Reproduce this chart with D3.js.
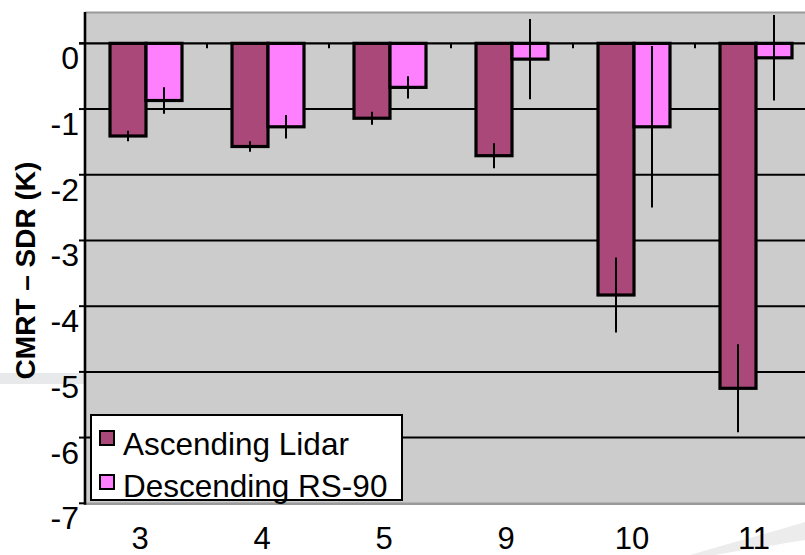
<!DOCTYPE html>
<html>
<head>
<meta charset="utf-8">
<script src="https://cdn.jsdelivr.net/npm/d3@7"></script>
<style>
  html, body { margin: 0; padding: 0; background: #ffffff; }
  svg { display: block; }
  text { font-family: "Liberation Sans", Arial, sans-serif; }
</style>
</head>
<body>
<svg id="chart" width="805" height="555"></svg>
<script>
// ---- data ----
const categories = ["3", "4", "5", "9", "10", "11"];
const seriesNames = ["Ascending Lidar", "Descending RS-90"];
const lidarValues = [-1.41, -1.57, -1.14, -1.71, -3.83, -5.25];
const lidarErrors = [0.08, 0.08, 0.10, 0.19, 0.57, 0.67];
const rs90Values = [-0.87, -1.27, -0.67, -0.24, -1.27, -0.22];
const rs90Errors = [0.20, 0.18, 0.17, 0.61, 1.23, 0.65];
const yTicks = [0, -1, -2, -3, -4, -5, -6, -7];
const yLabel = "CMRT \u2013 SDR (K)";

// ---- layout ----
const svg = d3.select("#chart");
const W = 805, H = 555;
const plot = { left: 85, top: 12, right: 817, bottom: 503.3 };
const colors = ["#AA4979", "#FF80FF"];

const x = d3.scaleBand().domain(categories).range([plot.left, plot.right]).paddingInner(0).paddingOuter(0);
const y = d3.scaleLinear().domain([-7, 0.477]).range([plot.bottom, plot.top]);
const barW = 36;
const offset = (x.bandwidth() - 2 * barW) / 2;

// background decorations (slide swoosh)
svg.append("rect").attr("x", 0).attr("y", 373).attr("width", plot.left).attr("height", 11).attr("fill", "#e7e9ea");
svg.append("path")
  .attr("d", "M690,555 C740,540 780,530 805,522 L805,540 C770,546 730,552 715,555 Z")
  .attr("fill", "#ececec");

// plot area
svg.append("rect")
  .attr("x", plot.left).attr("y", plot.top)
  .attr("width", plot.right - plot.left).attr("height", plot.bottom - plot.top)
  .attr("fill", "#cccccc");

// top/bottom border (gray)
svg.append("line").attr("x1", plot.left).attr("x2", W).attr("y1", plot.top + 0.5).attr("y2", plot.top + 0.5)
  .attr("stroke", "#9a9a9a").attr("stroke-width", 2);
svg.append("line").attr("x1", plot.left).attr("x2", W).attr("y1", plot.bottom + 0.5).attr("y2", plot.bottom + 0.5)
  .attr("stroke", "#9a9a9a").attr("stroke-width", 2.5);

// gridlines
svg.append("g").selectAll("line")
  .data(yTicks.filter(t => t !== 0 && t !== -7))
  .join("line")
  .attr("x1", plot.left).attr("x2", W)
  .attr("y1", d => y(d)).attr("y2", d => y(d))
  .attr("stroke", "#000").attr("stroke-width", 2);

// bars
const gBars = svg.append("g");
const seriesData = [
  { name: seriesNames[0], values: lidarValues, errors: lidarErrors, color: colors[0], idx: 0 },
  { name: seriesNames[1], values: rs90Values, errors: rs90Errors, color: colors[1], idx: 1 }
];
seriesData.forEach(s => {
  gBars.selectAll(null)
    .data(categories.map((c, i) => ({ c, v: s.values[i], e: s.errors[i] })))
    .join("rect")
    .attr("x", d => x(d.c) + offset + s.idx * barW)
    .attr("y", d => y(Math.max(0, d.v)))
    .attr("width", barW)
    .attr("height", d => Math.abs(y(d.v) - y(0)))
    .attr("fill", s.color)
    .attr("stroke", "#000")
    .attr("stroke-width", 3.2);
});

// zero line (axis) with category ticks
svg.append("line").attr("x1", plot.left - 6).attr("x2", W).attr("y1", y(0)).attr("y2", y(0))
  .attr("stroke", "#000").attr("stroke-width", 2.4);
svg.append("g").selectAll("line")
  .data(categories.slice(1))
  .join("line")
  .attr("x1", d => x(d)).attr("x2", d => x(d))
  .attr("y1", y(0)).attr("y2", y(0) + 5)
  .attr("stroke", "#000").attr("stroke-width", 2);

// error bars
seriesData.forEach(s => {
  svg.append("g").selectAll("line")
    .data(categories.map((c, i) => ({ c, v: s.values[i], e: s.errors[i] })))
    .join("line")
    .attr("x1", d => x(d.c) + offset + s.idx * barW + barW / 2)
    .attr("x2", d => x(d.c) + offset + s.idx * barW + barW / 2)
    .attr("y1", d => y(d.v + d.e))
    .attr("y2", d => y(d.v - d.e))
    .attr("stroke", "#000").attr("stroke-width", 2);
});

// left axis
svg.append("line").attr("x1", plot.left).attr("x2", plot.left).attr("y1", plot.top).attr("y2", plot.bottom + 1.5)
  .attr("stroke", "#000").attr("stroke-width", 2.6);
const yAxis = svg.append("g");
yAxis.selectAll("line")
  .data(yTicks)
  .join("line")
  .attr("x1", plot.left - 6).attr("x2", plot.left)
  .attr("y1", d => y(d)).attr("y2", d => y(d))
  .attr("stroke", "#000").attr("stroke-width", 2);
yAxis.selectAll("text")
  .data(yTicks)
  .join("text")
  .attr("x", 79)
  .attr("y", d => y(d) + 26)
  .attr("text-anchor", "end")
  .attr("font-size", 32)
  .attr("fill", "#000")
  .text(d => d === 0 ? "0" : "-" + Math.abs(d));

// x labels
svg.append("g").selectAll("text")
  .data(categories)
  .join("text")
  .attr("x", d => x(d) + x.bandwidth() / 2 - (d.length > 1 ? 2 : 6))
  .attr("y", 548.5)
  .attr("text-anchor", "middle")
  .attr("font-size", 31)
  .attr("fill", "#000")
  .text(d => d);

// y title
svg.append("text")
  .attr("transform", "translate(35,270.5) rotate(-90)")
  .attr("text-anchor", "middle")
  .attr("font-size", 28)
  .attr("font-weight", "bold")
  .attr("fill", "#000")
  .text(yLabel);

// legend
const leg = svg.append("g");
leg.append("rect").attr("x", 91).attr("y", 415).attr("width", 311).attr("height", 85)
  .attr("fill", "#fff").attr("stroke", "#000").attr("stroke-width", 2);
seriesData.forEach((s, i) => {
  leg.append("rect").attr("x", 100).attr("y", 431 + i * 44).attr("width", 14).attr("height", 14)
    .attr("fill", s.color).attr("stroke", "#000").attr("stroke-width", 2);
  leg.append("text").attr("x", 123).attr("y", 455 + i * 42)
    .attr("font-size", 31.5).attr("fill", "#000").text(s.name);
});
</script>
</body>
</html>
